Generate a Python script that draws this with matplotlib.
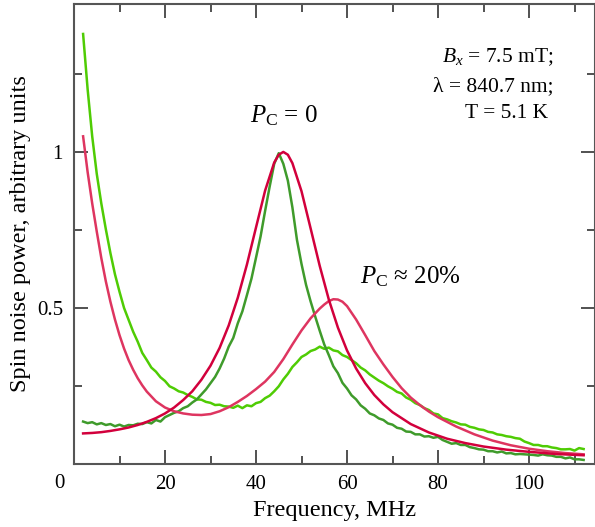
import numpy as np
import matplotlib
matplotlib.use("Agg")
import matplotlib.pyplot as plt
from matplotlib.ticker import MultipleLocator, FixedLocator

plt.rcParams['font.family'] = ['Liberation Serif', 'DejaVu Serif']
plt.rcParams['mathtext.fontset'] = 'custom'
plt.rcParams['mathtext.rm'] = 'Liberation Serif'
plt.rcParams['mathtext.it'] = 'Liberation Serif:italic'

# fitted curves
fit0_f = [2, 4, 6, 8, 10, 12, 14, 16, 18, 20, 22, 24, 26, 28, 30, 32, 34, 36, 38, 40,
          42, 44, 45, 46, 47, 48, 50, 52, 54, 56, 58, 60, 62, 64, 66, 68, 70, 74, 78,
          82, 86, 90, 95, 100, 106, 112]
fit0_p = [0.098, 0.0995, 0.102, 0.106, 0.111, 0.117, 0.125, 0.135, 0.147, 0.162, 0.181,
          0.205, 0.233, 0.270, 0.315, 0.372, 0.444, 0.533, 0.639, 0.758, 0.876, 0.966,
          0.991, 1.0, 0.991, 0.964, 0.874, 0.755, 0.635, 0.527, 0.437, 0.364, 0.306,
          0.259, 0.221, 0.191, 0.166, 0.128, 0.101, 0.081, 0.067, 0.056, 0.046, 0.039,
          0.032, 0.028]

fit20_f = [2, 3, 4, 5, 6, 7, 8, 9, 10, 11, 12, 13, 14, 15, 16, 18, 20, 22, 24, 26, 28,
           30, 32, 34, 36, 38, 40, 42, 44, 46, 48, 50, 52, 54, 55, 56, 57, 58, 59, 60,
           62, 64, 66, 68, 70, 72, 74, 76, 78, 80, 84, 88, 92, 96, 100, 104, 108, 112]
fit20_p = [1.05, 0.935, 0.835, 0.745, 0.66, 0.585, 0.52, 0.463, 0.413, 0.37, 0.333,
           0.302, 0.275, 0.252, 0.232, 0.201, 0.181, 0.169, 0.162, 0.158, 0.157, 0.16,
           0.169, 0.182, 0.199, 0.218, 0.24, 0.264, 0.295, 0.336, 0.383, 0.428, 0.467,
           0.498, 0.511, 0.522, 0.528, 0.527, 0.52, 0.506, 0.463, 0.413, 0.362, 0.319,
           0.279, 0.243, 0.213, 0.189, 0.168, 0.15, 0.12, 0.095, 0.075, 0.06, 0.049,
           0.041, 0.035, 0.031]

# measured spectra, 1 MHz steps from 2 to 112 MHz
data_f = np.arange(2, 113)
data0_p = [0.136, 0.131, 0.134, 0.127, 0.131, 0.125, 0.128, 0.121, 0.126, 0.12, 0.125,
           0.124, 0.129, 0.128, 0.134, 0.13, 0.141, 0.136, 0.15, 0.157, 0.164, 0.169,
           0.179, 0.185, 0.197, 0.207, 0.223, 0.239, 0.259, 0.279, 0.306, 0.338, 0.376,
           0.404, 0.451, 0.489, 0.541, 0.594, 0.661, 0.729, 0.811, 0.889, 0.962, 0.996,
           0.962, 0.908, 0.822, 0.718, 0.641, 0.574, 0.521, 0.473, 0.427, 0.383, 0.349,
           0.313, 0.291, 0.26, 0.242, 0.22, 0.207, 0.188, 0.177, 0.162, 0.156, 0.146,
           0.141, 0.13, 0.126, 0.116, 0.113, 0.104, 0.103, 0.095, 0.095, 0.088, 0.089,
           0.084, 0.087, 0.077, 0.071, 0.065, 0.067, 0.061, 0.061, 0.054, 0.051, 0.047,
           0.046, 0.041, 0.041, 0.037, 0.04, 0.034, 0.035, 0.031, 0.032, 0.031, 0.03,
           0.029, 0.027, 0.031, 0.028, 0.027, 0.023, 0.023, 0.018, 0.021, 0.015, 0.015,
           0.013]
data20_p = [1.378, 1.2, 1.05, 0.93, 0.835, 0.752, 0.676, 0.608, 0.552, 0.5, 0.462, 0.424,
            0.392, 0.356, 0.333, 0.309, 0.296, 0.278, 0.266, 0.249, 0.242, 0.233, 0.229,
            0.221, 0.215, 0.207, 0.206, 0.199, 0.196, 0.189, 0.19, 0.185, 0.184, 0.18,
            0.187, 0.179, 0.188, 0.185, 0.195, 0.199, 0.211, 0.219, 0.233, 0.249, 0.271,
            0.289, 0.311, 0.326, 0.343, 0.351, 0.362, 0.367, 0.376, 0.369, 0.373, 0.364,
            0.361, 0.349, 0.343, 0.333, 0.323, 0.309, 0.3, 0.287, 0.277, 0.267, 0.259,
            0.249, 0.241, 0.231, 0.226, 0.213, 0.206, 0.195, 0.189, 0.179, 0.173, 0.162,
            0.159, 0.147, 0.143, 0.137, 0.133, 0.127, 0.126, 0.119, 0.116, 0.111, 0.109,
            0.103, 0.101, 0.095, 0.093, 0.089, 0.087, 0.083, 0.081, 0.072, 0.067, 0.061,
            0.061, 0.057, 0.057, 0.053, 0.051, 0.047, 0.047, 0.048, 0.043, 0.051, 0.048]

xticks = [20, 40, 60, 80, 100]
yticks = [0.5, 1.0]
ytick_labels = ['0.5', '1']

fig = plt.figure(figsize=(5.95, 5.27), dpi=100)
ax = fig.add_axes([74 / 595, 1 - 464 / 527, 521 / 595, 460 / 527])

ax.plot(data_f, data20_p, color='#4fcc04', lw=1.8)
ax.plot(data_f, data0_p, color='#3f9b2b', lw=1.8)
ax.plot(fit20_f, fit20_p, color='#de3560', lw=1.8)
ax.plot(fit0_f, fit0_p, color='#d2003c', lw=1.8)

ax.set_xlim(0, 114.5)
ax.set_ylim(0, 1.474)

ax.xaxis.set_major_locator(FixedLocator([0] + xticks))
ax.set_xticklabels([''] + [str(t) for t in xticks])
ax.xaxis.set_minor_locator(MultipleLocator(10))
ax.yaxis.set_major_locator(FixedLocator(yticks))
ax.set_yticklabels(ytick_labels)
ax.yaxis.set_minor_locator(FixedLocator([0.25, 0.75, 1.25]))

ax.tick_params(which='both', direction='in', top=True, right=True,
               labelsize=15, color='#222222', width=1.1)
ax.tick_params(which='major', length=10, pad=8)
ax.tick_params(which='minor', length=6)
for s in ax.spines.values():
    s.set_color('#555555')
    s.set_linewidth(1.5)

# shared origin label
ax.text(-15 / 4.55, -0.031, '0', fontsize=15, ha='center', va='top')

ax.set_xlabel('Frequency, MHz', fontsize=17.5, labelpad=4)
ax.set_ylabel('Spin noise power, arbitrary units', fontsize=17.5, labelpad=4)

ax.text(38.7, 1.096, r'$P_{\mathrm{C}}$ = 0', fontsize=18, ha='left', va='baseline')
ax.text(62.9, 0.58, r'$P_{\mathrm{C}}$ ≈ 20%', fontsize=18, ha='left', va='baseline')

ax.text(105.3, 1.288, r'$B_x$ = 7.5 mT;', fontsize=15.5, ha='right', va='baseline')
ax.text(105.3, 1.196, 'λ = 840.7 nm;', fontsize=15.5, ha='right', va='baseline')
ax.text(104.2, 1.109, 'T = 5.1 K', fontsize=15.5, ha='right', va='baseline')

fig.savefig('out.png', dpi=100)
